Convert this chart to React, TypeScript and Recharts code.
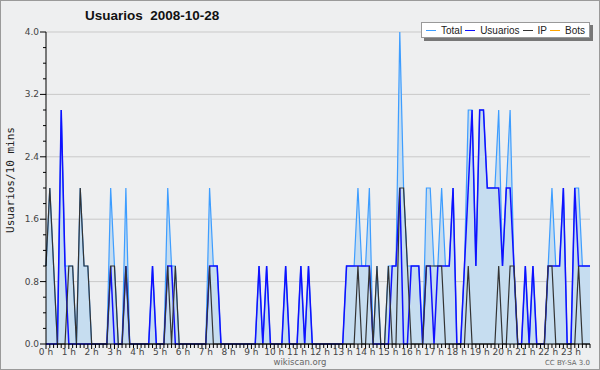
import React from 'react';
import { ComposedChart, Area, Line, XAxis, YAxis, CartesianGrid, Legend } from 'recharts';

// 10-minute slots of the day (0 = 00:00 ... 143 = 23:50)
const slots: number[] = Array.from({ length: 144 }, (_, i) => i);

const totalValues = [
  1, 2, 1, 0, 3, 1,
  1, 1, 0, 2, 1, 1,
  0, 0, 0, 0, 0, 2,
  1, 0, 0, 2, 0, 0,
  0, 0, 0, 0, 1, 0,
  0, 0, 2, 1, 1, 0,
  0, 0, 0, 0, 0, 0,
  0, 2, 1, 1, 0, 0,
  0, 0, 0, 0, 0, 0,
  0, 0, 1, 0, 1, 0,
  0, 0, 0, 1, 0, 0,
  0, 1, 0, 1, 0, 0,
  0, 0, 0, 0, 0, 0,
  0, 1, 1, 1, 2, 1,
  1, 2, 0, 1, 0, 0,
  1, 1, 1, 4, 2, 1,
  1, 1, 1, 0, 2, 2,
  1, 1, 2, 1, 1, 2,
  0, 0, 1, 3, 3, 1,
  3, 3, 2, 2, 2, 3,
  1, 2, 3, 1, 0, 0,
  1, 0, 1, 0, 0, 0,
  1, 2, 1, 1, 2, 0,
  0, 2, 2, 1, 1, 1,
];

const usuariosValues = [
  0, 0, 0, 0, 3, 1,
  0, 0, 0, 0, 0, 0,
  0, 0, 0, 0, 0, 1,
  0, 0, 0, 1, 0, 0,
  0, 0, 0, 0, 1, 0,
  0, 0, 1, 1, 0, 0,
  0, 0, 0, 0, 0, 0,
  0, 1, 1, 1, 0, 0,
  0, 0, 0, 0, 0, 0,
  0, 0, 1, 0, 1, 0,
  0, 0, 0, 1, 0, 0,
  0, 1, 0, 1, 0, 0,
  0, 0, 0, 0, 0, 0,
  0, 1, 1, 1, 1, 1,
  1, 1, 0, 0, 0, 0,
  0, 1, 1, 2, 0, 0,
  1, 1, 1, 0, 1, 1,
  0, 1, 1, 1, 1, 2,
  0, 0, 1, 2, 3, 1,
  3, 3, 2, 2, 2, 2,
  1, 2, 2, 1, 0, 0,
  1, 0, 1, 0, 0, 0,
  1, 1, 1, 1, 2, 0,
  0, 2, 1, 1, 1, 1,
];

const ipValues = [
  1, 2, 1, 0, 0, 0,
  1, 1, 0, 2, 1, 1,
  0, 0, 0, 0, 0, 1,
  1, 0, 0, 1, 0, 0,
  0, 0, 0, 0, 0, 0,
  0, 0, 1, 0, 1, 0,
  0, 0, 0, 0, 0, 0,
  0, 1, 0, 0, 0, 0,
  0, 0, 0, 0, 0, 0,
  0, 0, 0, 0, 0, 0,
  0, 0, 0, 0, 0, 0,
  0, 0, 0, 0, 0, 0,
  0, 0, 0, 0, 0, 0,
  0, 0, 0, 0, 1, 0,
  0, 1, 0, 1, 0, 0,
  1, 0, 0, 2, 2, 1,
  0, 0, 0, 0, 1, 1,
  1, 1, 1, 0, 0, 0,
  0, 0, 0, 1, 0, 0,
  0, 0, 0, 0, 0, 1,
  0, 0, 1, 1, 0, 0,
  0, 0, 0, 0, 0, 0,
  1, 1, 0, 0, 0, 0,
  0, 0, 1, 0, 0, 0,
];

const hourLabels = [
  '0 h', '1 h', '2 h', '3 h', '4 h', '5 h', '6 h', '7 h', '8 h', '9 h', '10 h', '11 h',
  '12 h', '13 h', '14 h', '15 h', '16 h', '17 h', '18 h', '19 h', '20 h', '21 h', '22 h', '23 h',
];

const yTicks = [0, 0.2, 0.4, 0.6, 0.8, 1.0, 1.2, 1.4, 1.6, 1.8, 2.0, 2.2, 2.4, 2.6, 2.8, 3.0, 3.2, 3.4, 3.6, 3.8, 4.0];
const yMajorTicks = [0, 0.8, 1.6, 2.4, 3.2, 4.0];

const legendItems = [
  { name: 'Total', color: '#3d9dff' },
  { name: 'Usuarios', color: '#1010ff' },
  { name: 'IP', color: '#333333' },
  { name: 'Bots', color: '#ffa500' },
];

const COLORS = {
  bg: '#eeeff0',
  fill: '#c6ddf0',
  total: '#3d9dff',
  usuarios: '#1010ff',
  ip: '#333333',
  grid: '#c9c9c9',
  text: '#333333',
};

const data = slots.map((s, i) => ({
  slot: s,
  total: totalValues[i],
  usuarios: usuariosValues[i],
  ip: ipValues[i],
}));

const isMajor = (v: number) => yMajorTicks.some((m) => Math.abs(m - v) < 1e-6);

const YTick = (props: any) => {
  const { x, y, payload } = props;
  const v = payload.value as number;
  const major = isMajor(v);
  return (
    <g>
      <line x1={x - (major ? 6 : 3)} x2={x} y1={y} y2={y} stroke="#000" strokeWidth={1} />
      {major && (
        <text x={x - 7} y={y} dy={3} textAnchor="end" fontSize={9} fill="#444" fontFamily="'DejaVu Sans', sans-serif">
          {v.toFixed(1)}
        </text>
      )}
    </g>
  );
};

const XTick = (props: any) => {
  const { x, y, payload } = props;
  const v = payload.value as number;
  const hour = v % 6 === 0;
  return (
    <g>
      <line x1={x} x2={x} y1={y} y2={y + (hour ? 5 : 4)} stroke="#000" strokeWidth={1} />
      {hour && (
        <text x={x} y={y + 11} textAnchor="middle" fontSize={9} fill="#444" fontFamily="'DejaVu Sans', sans-serif">
          {hourLabels[v / 6]}
        </text>
      )}
    </g>
  );
};

const LegendBox = () => (
  <div
    style={{
      background: '#fff',
      border: '1px solid #999',
      boxShadow: '3px 3px 0 #777',
      height: 14,
      display: 'inline-flex',
      alignItems: 'center',
      fontFamily: "'Liberation Sans', Arial, sans-serif",
      fontSize: 10,
      color: '#222',
      paddingLeft: 4,
      paddingRight: 1,
      boxSizing: 'content-box',
      whiteSpace: 'nowrap',
    }}
  >
    {legendItems.map((it) => (
      <span key={it.name} style={{ display: 'flex', alignItems: 'center', marginRight: 3 }}>
        <span style={{ display: 'inline-block', width: 10, height: 1.5, background: it.color, marginRight: 5 }} />
        <span>{it.name}</span>
      </span>
    ))}
  </div>
);

export default function App() {
  return (
    <div style={{ position: 'fixed', left: 0, top: 0, width: 600, height: 370, background: COLORS.bg, overflow: 'hidden' }}>
      <ComposedChart width={600} height={370} data={data} margin={{ top: 32, right: 10, bottom: 0, left: 10 }}>
        <CartesianGrid vertical={false} horizontalValues={yMajorTicks} stroke={COLORS.grid} strokeWidth={1} />
        <XAxis
          dataKey="slot"
          type="number"
          domain={[0, 143]}
          ticks={slots}
          interval={0}
          height={26}
          tickSize={0}
          tickMargin={0}
          tickLine={false}
          tick={<XTick />}
          axisLine={{ stroke: '#000', strokeWidth: 1 }}
          allowDecimals={false}
        />
        <YAxis
          type="number"
          domain={[0, 4]}
          ticks={yTicks}
          interval={0}
          width={36}
          tickSize={0}
          tickMargin={0}
          tickLine={false}
          tick={<YTick />}
          axisLine={{ stroke: '#000', strokeWidth: 1 }}
        />
        <Area
          type="linear"
          dataKey="total"
          name="Total"
          stroke={COLORS.total}
          strokeWidth={1.2}
          fill={COLORS.fill}
          fillOpacity={1}
          isAnimationActive={false}
          dot={false}
          activeDot={false}
        />
        <Line
          type="linear"
          dataKey="usuarios"
          name="Usuarios"
          stroke={COLORS.usuarios}
          strokeWidth={1.5}
          dot={false}
          activeDot={false}
          isAnimationActive={false}
        />
        <Line
          type="linear"
          dataKey="ip"
          name="IP"
          stroke={COLORS.ip}
          strokeWidth={1.2}
          dot={false}
          activeDot={false}
          isAnimationActive={false}
        />
        <Legend
          layout="vertical"
          align="center"
          verticalAlign="middle"
          wrapperStyle={{ position: 'absolute', left: 421, top: 17, width: 176, height: 18 }}
          content={() => <LegendBox />}
        />
      </ComposedChart>

      <div
        style={{
          position: 'absolute', left: 85, top: 8, fontFamily: "'Liberation Sans', Arial, sans-serif",
          fontWeight: 'bold', fontSize: 13.5, color: '#111', whiteSpace: 'pre',
        }}
      >
        {'Usuarios  2008-10-28'}
      </div>
      <div
        style={{
          position: 'absolute', left: 10, top: 180, transform: 'translate(-50%, -50%) rotate(-90deg)',
          fontFamily: "'DejaVu Sans Mono', monospace", fontSize: 11, color: '#222', whiteSpace: 'nowrap',
        }}
      >
        Usuarios/10 mins
      </div>
      <div
        style={{
          position: 'absolute', left: 300, top: 357, transform: 'translateX(-50%)',
          fontFamily: "'DejaVu Sans', sans-serif", fontSize: 8.5, color: '#666', whiteSpace: 'nowrap',
        }}
      >
        wikiscan.org
      </div>
      <div
        style={{
          position: 'absolute', right: 10, top: 359,
          fontFamily: "'DejaVu Sans', sans-serif", fontSize: 7, color: '#666', whiteSpace: 'nowrap',
        }}
      >
        CC BY-SA 3.0
      </div>
      <div style={{ position: 'absolute', inset: 0, border: '1px solid #9a9a9a', boxSizing: 'border-box', pointerEvents: 'none' }} />
    </div>
  );
}
